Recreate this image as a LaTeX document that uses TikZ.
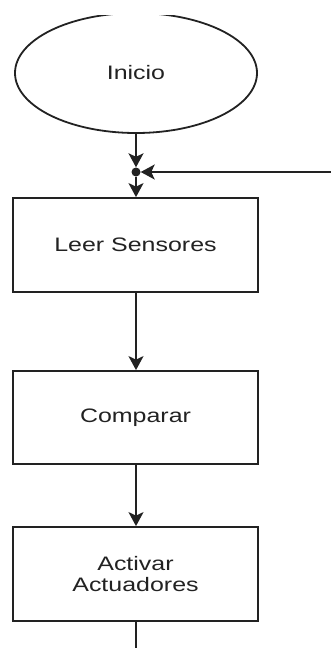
\documentclass[tikz,border=0pt]{standalone}
\usepackage{fontspec}
\setmainfont[FakeStretch=1.28]{Liberation Sans}
\usetikzlibrary{shapes.geometric,arrows.meta}
\definecolor{ink}{HTML}{222222}
\begin{document}
\begin{tikzpicture}[x=1pt,y=-1pt,
  every node/.style={font=\fontsize{19.5}{21.5}\selectfont, text=ink},
  stepbox/.style={draw=ink, line width=1.8pt, rectangle, minimum width=245pt, minimum height=94pt, inner sep=0pt, align=center},
  flow/.style={draw=ink, line width=1.8pt, -{Stealth[length=14pt,width=15pt,inset=3.5pt]}},
  plain/.style={draw=ink, line width=1.8pt}]
  \useasboundingbox (0,0) rectangle (331,648);
  \fill[white] (0,0) rectangle (331,648);
  % start terminal, its top edge trimmed by the frame
  \begin{scope}
    \clip (0,15) rectangle (331,648);
    \node[ellipse, draw=ink, line width=1.8pt, minimum width=242pt, minimum height=120pt, inner sep=0pt] (ini) at (136,73) {Inicio};
  \end{scope}
  % junction where the loop returns
  \node[circle, fill=ink, inner sep=0pt, minimum size=9pt] (jn) at (136,172) {};
  \coordinate (loopin) at (331,172);
  % process steps
  \node[stepbox] (leer) at (135.5,245) {Leer Sensores};
  \node[stepbox, minimum height=93pt] (comp) at (135.5,417.5) {Comparar};
  \node[stepbox] (act) at (135.5,574) {Activar\\Actuadores};
  \coordinate (out) at (136,648);
  % connectors
  \draw[flow] (ini.south) -- (jn.north);
  \draw[flow] (loopin) -- (jn.east);
  \draw[flow] (jn.south) -- (leer.north -| jn);
  \draw[flow] (leer.south -| jn) -- (comp.north -| jn);
  \draw[flow] (comp.south -| jn) -- (act.north -| jn);
  \draw[plain] (act.south -| jn) -- (out);
\end{tikzpicture}
\end{document}
